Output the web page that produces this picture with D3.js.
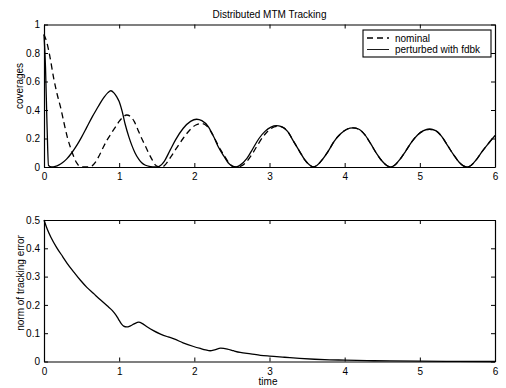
<!DOCTYPE html>
<html>
<head>
<meta charset="utf-8">
<script src="https://cdn.jsdelivr.net/npm/d3@7"></script>
<style>
  html, body { margin: 0; padding: 0; background: #fff; }
  svg { display: block; }
  text { font-family: "Liberation Sans", Arial, Helvetica, sans-serif; fill: #000; }
</style>
</head>
<body>
<script>
// ---------- data ----------
const title = "Distributed MTM Tracking";
const legendLabels = ["nominal", "perturbed with fdbk"];
const xTicks = [0, 1, 2, 3, 4, 5, 6];
const topYTicks = [0, 0.2, 0.4, 0.6, 0.8, 1];
const topYTickLabels = ["0", "0.2", "0.4", "0.6", "0.8", "1"];
const botYTicks = [0, 0.1, 0.2, 0.3, 0.4, 0.5];
const botYTickLabels = ["0", "0.1", "0.2", "0.3", "0.4", "0.5"];

// perturbed with fdbk (solid)
const perturbedT = [0, 0.02, 0.04, 0.06, 0.1, 0.15, 0.2, 0.24, 0.3, 0.37, 0.44, 0.5, 0.57, 0.64, 0.7, 0.75, 0.8, 0.85, 0.89, 0.93, 0.97, 1.0, 1.04, 1.08, 1.13, 1.17, 1.21, 1.26, 1.3, 1.35, 1.4, 1.45, 1.5,
  1.55, 1.6, 1.68, 1.75, 1.85, 1.95, 2.03, 2.1, 2.19, 2.26, 2.32, 2.4, 2.45, 2.5, 2.55,
  2.6, 2.7, 2.78, 2.86, 2.94, 3.02, 3.09, 3.16, 3.24, 3.32, 3.4, 3.47, 3.53, 3.58,
  3.63, 3.7, 3.78, 3.86, 3.95, 4.03, 4.11, 4.19, 4.27, 4.35, 4.43, 4.5, 4.56, 4.61,
  4.66, 4.73, 4.81, 4.89, 4.97, 5.05, 5.13, 5.21, 5.29, 5.37, 5.45, 5.52, 5.58, 5.63,
  5.68, 5.75, 5.83, 5.92, 6.0];
const perturbedV = [0.93, 0.7, 0.3, 0.01, 0, 0.004, 0.015, 0.028, 0.055, 0.1, 0.155, 0.21, 0.28, 0.35, 0.405, 0.45, 0.49, 0.522, 0.535, 0.52, 0.49, 0.46, 0.39, 0.3, 0.21, 0.15, 0.1, 0.055, 0.03, 0.012, 0.004, 0.001, 0,
  0.01, 0.04, 0.12, 0.19, 0.27, 0.32, 0.335, 0.325, 0.28, 0.21, 0.14, 0.07, 0.03, 0.008, 0,
  0.01, 0.06, 0.13, 0.2, 0.25, 0.28, 0.29, 0.283, 0.25, 0.18, 0.11, 0.05, 0.015, 0,
  0.01, 0.05, 0.11, 0.18, 0.235, 0.265, 0.275, 0.265, 0.225, 0.16, 0.09, 0.04, 0.01, 0,
  0.01, 0.05, 0.11, 0.175, 0.225, 0.255, 0.265, 0.255, 0.215, 0.15, 0.085, 0.035, 0.008, 0,
  0.01, 0.05, 0.11, 0.17, 0.22];

// nominal (dashed)
const nominalT = [0, 0.04, 0.08, 0.13, 0.18, 0.22, 0.27, 0.31, 0.35, 0.39, 0.44, 0.48, 0.52, 0.6, 0.64, 0.68, 0.73, 0.79, 0.84, 0.9, 0.95, 1.0, 1.05, 1.1, 1.15, 1.2, 1.25, 1.3, 1.35, 1.39, 1.44, 1.48, 1.52, 1.57,
  1.62, 1.68, 1.76, 1.85, 1.94, 2.02, 2.1, 2.17, 2.23, 2.29, 2.35, 2.41, 2.46, 2.51, 2.55,
  2.62, 2.7, 2.78, 2.86, 2.94, 3.02, 3.1, 3.17, 3.24, 3.32, 3.4, 3.47, 3.53, 3.58,
  3.63, 3.7, 3.78, 3.86, 3.95, 4.03, 4.11, 4.19, 4.27, 4.35, 4.43, 4.5, 4.56, 4.61,
  4.66, 4.73, 4.81, 4.89, 4.97, 5.05, 5.13, 5.21, 5.29, 5.37, 5.45, 5.52, 5.58, 5.63,
  5.68, 5.75, 5.83, 5.92, 6.0];
const nominalV = [0.93, 0.87, 0.77, 0.62, 0.5, 0.42, 0.3, 0.21, 0.14, 0.08, 0.025, 0.003, 0, 0, 0.008, 0.03, 0.075, 0.14, 0.19, 0.24, 0.28, 0.32, 0.35, 0.365, 0.355, 0.32, 0.26, 0.2, 0.145, 0.1, 0.05, 0.015, 0.003, 0,
  0.02, 0.065, 0.13, 0.2, 0.26, 0.295, 0.305, 0.285, 0.24, 0.18, 0.12, 0.07, 0.03, 0.005, 0,
  0.006, 0.04, 0.1, 0.17, 0.23, 0.27, 0.285, 0.28, 0.25, 0.18, 0.11, 0.05, 0.015, 0,
  0.01, 0.05, 0.11, 0.18, 0.235, 0.265, 0.275, 0.265, 0.225, 0.16, 0.09, 0.04, 0.01, 0,
  0.01, 0.05, 0.11, 0.175, 0.225, 0.255, 0.265, 0.255, 0.215, 0.15, 0.085, 0.035, 0.008, 0,
  0.01, 0.05, 0.11, 0.17, 0.22];

// norm of tracking error
const errorT = [0, 0.04, 0.09, 0.175, 0.25, 0.31, 0.4, 0.485, 0.57, 0.66, 0.75, 0.84, 0.91, 0.96, 0.99, 1.03, 1.06, 1.1, 1.15, 1.2, 1.26, 1.31, 1.37, 1.45, 1.55, 1.65, 1.73, 1.85, 1.99, 2.08, 2.15, 2.21, 2.27, 2.35, 2.44, 2.52, 2.61, 2.75, 2.88, 3.0, 3.2, 3.4, 3.6, 3.8, 4.0, 4.3, 4.6, 5.0, 5.5, 6.0];
const errorV = [0.5, 0.47, 0.44, 0.40, 0.37, 0.346, 0.315, 0.287, 0.262, 0.24, 0.218, 0.197, 0.18, 0.163, 0.15, 0.133, 0.125, 0.122, 0.126, 0.133, 0.139, 0.134, 0.123, 0.11, 0.097, 0.087, 0.08, 0.066, 0.053, 0.046, 0.041, 0.038, 0.041, 0.047, 0.044, 0.038, 0.032, 0.027, 0.022, 0.019, 0.015, 0.011, 0.008, 0.006, 0.005, 0.003, 0.002, 0.001, 0.0005, 0];

// ---------- drawing ----------
const W = 506, H = 388;
const svg = d3.select("body").append("svg").attr("width", W).attr("height", H);
svg.append("rect").attr("width", W).attr("height", H).attr("fill", "#fff");

const left = 44, right = 495;
const top1 = 24.5, bot1 = 167;
const top2 = 220, bot2 = 361.5;

const x = d3.scaleLinear().domain([0, 6]).range([left, right]);
const y1 = d3.scaleLinear().domain([0, 1]).range([bot1, top1]);
const y2 = d3.scaleLinear().domain([0, 0.5]).range([bot2, top2]);

function drawAxes(y, yTop, yBot, yTicks, yLabels) {
  const g = svg.append("g");
  const tk = 4;
  g.append("g").attr("transform", `translate(0,${yBot})`)
    .call(d3.axisBottom(x).tickValues(xTicks).tickFormat(d3.format("d")).tickSizeInner(-tk).tickSizeOuter(0).tickPadding(6));
  g.append("g").attr("transform", `translate(0,${yTop})`)
    .call(d3.axisTop(x).tickValues(xTicks).tickFormat("").tickSizeInner(-tk).tickSizeOuter(0));
  g.append("g").attr("transform", `translate(${left},0)`)
    .call(d3.axisLeft(y).tickValues(yTicks).tickFormat((d, i) => yLabels[i]).tickSizeInner(-tk).tickSizeOuter(0).tickPadding(4));
  g.append("g").attr("transform", `translate(${right},0)`)
    .call(d3.axisRight(y).tickValues(yTicks).tickFormat("").tickSizeInner(-tk).tickSizeOuter(0));
  g.selectAll("path.domain").attr("stroke", "#000").attr("stroke-width", 1.2);
  g.selectAll(".tick line").attr("stroke", "#000").attr("stroke-width", 1);
  g.selectAll(".tick text").attr("font-size", 10).attr("font-family", "Liberation Sans, Arial, sans-serif").attr("fill", "#000");
}

drawAxes(y1, top1, bot1, topYTicks, topYTickLabels);
drawAxes(y2, top2, bot2, botYTicks, botYTickLabels);

const line1 = d3.line().x(d => x(d[0])).y(d => y1(d[1])).curve(d3.curveMonotoneX);
const line2 = d3.line().x(d => x(d[0])).y(d => y2(d[1])).curve(d3.curveMonotoneX);

svg.append("path").datum(nominalT.map((t, i) => [t, nominalV[i]]))
  .attr("d", line1).attr("fill", "none").attr("stroke", "#000").attr("stroke-width", 1.3).attr("stroke-dasharray", "6,4");
svg.append("path").datum(perturbedT.map((t, i) => [t, perturbedV[i]]))
  .attr("d", line1).attr("fill", "none").attr("stroke", "#000").attr("stroke-width", 1.3);
svg.append("path").datum(errorT.map((t, i) => [t, errorV[i]]))
  .attr("d", line2).attr("fill", "none").attr("stroke", "#000").attr("stroke-width", 1.3);

// title
svg.append("text").attr("x", (left + right) / 2).attr("y", 18).attr("text-anchor", "middle")
  .attr("font-size", 10).text(title);

// axis labels
svg.append("text").attr("transform", "translate(23,86) rotate(-90)").attr("text-anchor", "middle")
  .attr("font-size", 10).text("coverages");
svg.append("text").attr("transform", "translate(24,283) rotate(-90)").attr("text-anchor", "middle")
  .attr("font-size", 10).text("norm of tracking error");
svg.append("text").attr("x", 268).attr("y", 385).attr("text-anchor", "middle")
  .attr("font-size", 10).text("time");

// legend
const lg = svg.append("g");
lg.append("rect").attr("x", 363).attr("y", 30).attr("width", 128).attr("height", 27)
  .attr("fill", "#fff").attr("stroke", "#000").attr("stroke-width", 1.1);
const legendStyles = ["6,4", null];
legendLabels.forEach((lab, i) => {
  const yy = 38 + i * 11.5;
  const l = lg.append("line").attr("x1", 367).attr("x2", 389).attr("y1", yy).attr("y2", yy)
    .attr("stroke", "#000").attr("stroke-width", i === 0 ? 1.3 : 0.9);
  if (legendStyles[i]) l.attr("stroke-dasharray", legendStyles[i]);
  lg.append("text").attr("x", 395).attr("y", yy + 3.5).attr("font-size", 10).text(lab);
});
</script>
</body>
</html>
